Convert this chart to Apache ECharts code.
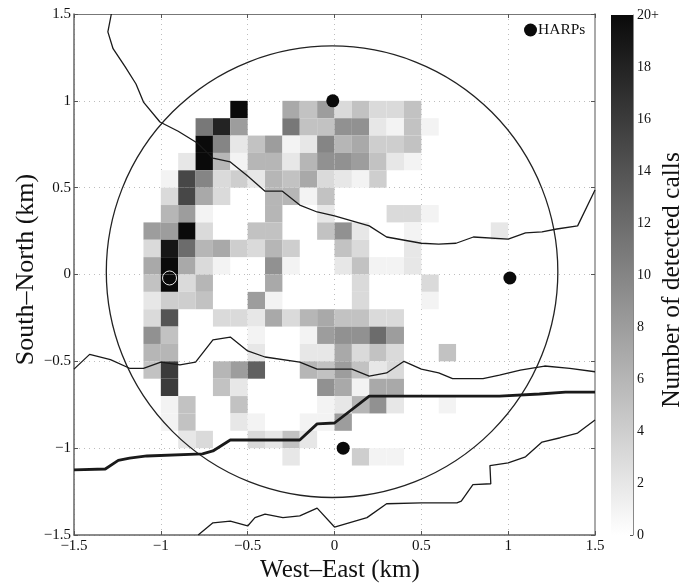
<!DOCTYPE html>
<html><head><meta charset="utf-8">
<style>html,body{margin:0;padding:0;background:#fff}#c{width:689px;height:585px}</style>
<script src="https://cdn.jsdelivr.net/npm/echarts@6/dist/echarts.min.js"></script>
</head><body><div id="c"></div>
<script>
// Column left edges (km) and row bottom edges (km) of the 0.1 km call-count grid
const colEdges = [-1.1,-1.0,-0.9,-0.8,-0.7,-0.6,-0.5,-0.4,-0.3,-0.2,-0.1,0,0.1,0.2,0.3,0.4,0.5,0.6,0.7,0.8,0.9];
const rowEdges = [0.9,0.8,0.7,0.6,0.5,0.4,0.3,0.2,0.1,0,-0.1,-0.2,-0.3,-0.4,-0.5,-0.6,-0.7,-0.8,-0.9,-1.0,-1.1];
const callCounts = [
 [0,0,0,0,0,20,0,0,7,5,8,3,5,3,3,5,0,0,0,0,0],
 [0,0,0,11,18,8,0,0,11,5,5,9,9,2,1,5,1,0,0,0,0],
 [0,0,0,20,10,2,5,8,1,2,10,6,7,4,4,5,0,0,0,0,0],
 [0,0,2,20,6,1,6,6,2,6,9,9,8,5,2,1,0,0,0,0,0],
 [0,1,15,10,3,4,2,6,5,7,3,2,1,4,0,0,0,0,0,0,0],
 [0,3,15,7,3,0,0,6,6,1,5,0,0,0,0,0,0,0,0,0,0],
 [0,6,8,1,0,0,0,6,0,0,2,0,0,0,3,3,1,0,0,0,0],
 [8,8,20,3,0,0,5,5,0,0,5,9,2,0,0,1,0,0,0,0,2],
 [3,19,12,6,7,4,3,6,4,0,0,5,3,0,0,2,0,0,0,0,0],
 [7,20,7,3,1,0,0,9,1,0,0,2,5,1,1,2,0,0,0,0,0],
 [5,20,3,6,0,0,0,7,0,0,0,0,3,0,0,0,3,0,0,0,0],
 [2,4,4,5,0,0,8,1,0,0,0,0,3,0,0,0,1,0,0,0,0],
 [3,14,0,0,3,3,2,7,3,6,7,5,5,3,3,0,0,0,0,0,0],
 [9,5,0,0,0,0,1,0,0,1,8,9,9,12,8,0,0,0,0,0,0],
 [6,6,0,0,0,0,2,0,0,2,2,7,3,5,3,0,0,5,0,0,0],
 [5,16,0,0,6,8,13,0,0,6,5,8,5,2,3,0,0,0,0,0,0],
 [0,16,0,0,5,2,0,0,0,0,9,7,1,7,7,0,0,0,0,0,0],
 [0,1,5,0,0,5,0,0,0,0,1,2,6,9,2,0,0,1,0,0,0],
 [0,1,5,0,0,2,1,0,0,1,1,8,0,0,0,0,0,0,0,0,0],
 [0,0,2,3,0,0,3,2,5,2,0,0,0,0,0,0,0,0,0,0,0],
 [0,0,0,0,0,0,0,0,2,0,0,0,4,1,1,0,0,0,0,0,0]
];
const contourA = [[-1.285,1.5],[-1.305,1.397],[-1.275,1.30],[-1.205,1.195],[-1.143,1.097],[-1.10,0.993],[-1.005,0.878],[-0.90,0.825],[-0.79,0.757],[-0.70,0.67],[-0.60,0.648],[-0.50,0.567],[-0.40,0.48],[-0.30,0.48],[-0.20,0.40],[-0.10,0.36],[0,0.337],[0.20,0.28],[0.30,0.216],[0.50,0.18],[0.60,0.175],[0.70,0.18],[0.80,0.216],[1.0,0.204],[1.10,0.24],[1.195,0.245],[1.28,0.262],[1.40,0.28],[1.5,0.487]];
const contourB = [[-1.5,-0.545],[-1.41,-0.46],[-1.29,-0.49],[-1.18,-0.54],[-1.10,-0.54],[-1.0,-0.505],[-0.89,-0.52],[-0.80,-0.505],[-0.70,-0.377],[-0.60,-0.36],[-0.50,-0.44],[-0.40,-0.475],[-0.20,-0.505],[-0.10,-0.545],[0.10,-0.545],[0.20,-0.585],[0.30,-0.567],[0.40,-0.50],[0.50,-0.545],[0.60,-0.567],[0.68,-0.60],[0.855,-0.60],[0.95,-0.58],[1.07,-0.55],[1.21,-0.527],[1.355,-0.54],[1.5,-0.56]];
const thickContour = [[-1.5,-1.125],[-1.32,-1.12],[-1.245,-1.07],[-1.18,-1.057],[-1.08,-1.045],[-0.76,-1.033],[-0.70,-1.016],[-0.60,-0.953],[-0.20,-0.953],[-0.10,-0.86],[0,-0.855],[0.20,-0.70],[0.95,-0.70],[1.18,-0.688],[1.33,-0.677],[1.5,-0.677]];
const contourD = [[-0.785,-1.5],[-0.70,-1.43],[-0.60,-1.42],[-0.50,-1.448],[-0.458,-1.40],[-0.40,-1.38],[-0.297,-1.40],[-0.20,-1.39],[-0.10,-1.345],[0,-1.454],[0.187,-1.40],[0.30,-1.32],[0.50,-1.315],[0.705,-1.315],[0.73,-1.305],[0.797,-1.21],[0.90,-1.205],[0.895,-1.10],[1.0,-1.085],[1.10,-1.05],[1.195,-0.965],[1.30,-0.94],[1.40,-0.913],[1.5,-0.838]];
const harps = [[-0.01,1.0],[1.01,-0.02],[0.05,-1.0]];
const whiteMarker = [[-0.95,-0.02]];
const rangeCircle = [[-0.014,0.016,1.30]];
const colorbarMax = [20];

const serif = '"Liberation Serif","DejaVu Serif",serif';
const ink = '#111';
const cells = [];
callCounts.forEach((row, r) => row.forEach((v, c) => { if (v > 0) cells.push([colEdges[c], rowEdges[r], v]); }));
const gray = v => { const g = Math.round(255 - 245 * Math.min(v, 20) / 20); return `rgb(${g},${g},${g})`; };
const fmt = v => String(v).replace('-', '\u2212');
const frame = (c, w) => ({ show: true, onZero: false, lineStyle: { color: c, width: w } });
const ticks = { show: true, inside: true, length: 4, lineStyle: { color: '#555', width: 1 } };
const base = { type: 'value', min: -1.5, max: 1.5, interval: 0.5, gridIndex: 0 };

const chart = echarts.init(document.getElementById('c'), null, { renderer: 'canvas' });
chart.setOption({
  animation: false,
  backgroundColor: '#fff',
  textStyle: { fontFamily: serif, color: ink },
  grid: [
    { left: 74, top: 14, width: 521, height: 521, outerBoundsMode: 'none' },
    { left: 611, top: 15, width: 22, height: 520, outerBoundsMode: 'none' }
  ],
  legend: {
    data: ['HARPs'], left: 524, top: 22, itemWidth: 13, itemHeight: 13, padding: 0,
    textStyle: { fontFamily: serif, fontSize: 15.5, color: ink, padding: [0, 0, 0, -4] }
  },
  xAxis: [
    Object.assign({}, base, {
      position: 'bottom', axisLine: frame('#666', 1.5), axisTick: ticks,
      axisLabel: { show: true, margin: 4, fontFamily: serif, fontSize: 15, color: ink, formatter: fmt, showMinLabel: true, showMaxLabel: true },
      splitLine: { show: true, lineStyle: { color: '#bdbdbd', type: [1, 4], width: 1 } },
      name: 'West\u2013East (km)', nameLocation: 'middle', nameGap: 23, nameMoveOverlap: false,
      nameTextStyle: { fontFamily: serif, fontSize: 25, color: ink, verticalAlign: 'top', padding: [0, 0, 0, 11] }
    }),
    Object.assign({}, base, {
      position: 'top', axisLine: frame('#777', 1.2), axisTick: ticks, axisLabel: { show: false }, splitLine: { show: false }
    }),
    { type: 'category', gridIndex: 1, data: [''], show: false }
  ],
  yAxis: [
    Object.assign({}, base, {
      position: 'left', axisLine: frame('#666', 1.5), axisTick: ticks,
      axisLabel: { show: true, margin: 3, fontFamily: serif, fontSize: 15, color: ink, formatter: fmt, showMinLabel: true, showMaxLabel: true },
      splitLine: { show: true, lineStyle: { color: '#bdbdbd', type: [1, 4], width: 1 } },
      name: 'South\u2013North (km)', nameLocation: 'middle', nameGap: 35, nameMoveOverlap: false,
      nameTextStyle: { fontFamily: serif, fontSize: 26, color: ink, padding: [0, 0, 0, 10] }
    }),
    Object.assign({}, base, {
      position: 'right', axisLine: frame('#aaa', 2), axisTick: ticks, axisLabel: { show: false }, splitLine: { show: false }
    }),
    {
      type: 'value', gridIndex: 1, position: 'right', min: 0, max: 20, interval: 2,
      axisLine: frame('#888', 1), axisTick: { show: true, inside: true, length: 3, lineStyle: { color: '#555' } },
      axisLabel: { show: true, margin: 4, fontFamily: serif, fontSize: 14, color: ink, formatter: v => v === 20 ? '20+' : String(v), showMinLabel: true, showMaxLabel: true },
      splitLine: { show: false },
      name: 'Number of detected calls', nameLocation: 'middle', nameGap: 26, nameRotate: 90, nameMoveOverlap: false,
      nameTextStyle: { fontFamily: serif, fontSize: 25.5, color: ink, padding: [0, 10, 0, 0] }
    }
  ],
  series: [
    {
      type: 'custom', xAxisIndex: 0, yAxisIndex: 0, data: cells, z: 2, silent: true,
      encode: { x: 0, y: 1 },
      renderItem: (params, api) => {
        const x = api.value(0), y = api.value(1);
        const a = api.coord([x, y + 0.1]), b = api.coord([x + 0.1, y]);
        return { type: 'rect', shape: { x: a[0], y: a[1], width: b[0] - a[0], height: b[1] - a[1] }, style: { fill: gray(api.value(2)) } };
      }
    },
    {
      type: 'custom', xAxisIndex: 0, yAxisIndex: 0, data: rangeCircle, z: 3, silent: true,
      encode: { x: 0, y: 1 }, clip: true,
      renderItem: (params, api) => {
        const c = api.coord([api.value(0), api.value(1)]);
        const r = api.size([api.value(2), 0])[0];
        return { type: 'circle', shape: { cx: c[0], cy: c[1], r: r }, style: { fill: 'none', stroke: '#222', lineWidth: 1.3 } };
      }
    },
    ...[[contourA, 1.3], [contourB, 1.3], [contourD, 1.3], [thickContour, 2.8]].map(([d, w]) => ({
      type: 'line', xAxisIndex: 0, yAxisIndex: 0, data: d, showSymbol: false, symbol: 'none', z: 4, silent: true,
      lineStyle: { color: '#1a1a1a', width: w }
    })),
    {
      name: 'HARPs', type: 'scatter', xAxisIndex: 0, yAxisIndex: 0, data: harps, symbol: 'circle', symbolSize: 13, z: 5, silent: true,
      itemStyle: { color: '#0a0a0a', opacity: 1 }
    },
    {
      type: 'scatter', xAxisIndex: 0, yAxisIndex: 0, data: whiteMarker, symbol: 'circle', symbolSize: 14, z: 6, silent: true,
      itemStyle: { color: 'transparent', borderColor: '#e8e8e8', borderWidth: 1, opacity: 1 }
    },
    {
      type: 'bar', xAxisIndex: 2, yAxisIndex: 2, data: colorbarMax, barWidth: '100%', z: 1, silent: true,
      itemStyle: { color: new echarts.graphic.LinearGradient(0, 0, 0, 1, [{ offset: 0, color: 'rgb(10,10,10)' }, { offset: 1, color: '#ffffff' }]) }
    }
  ]
});
</script></body></html>
